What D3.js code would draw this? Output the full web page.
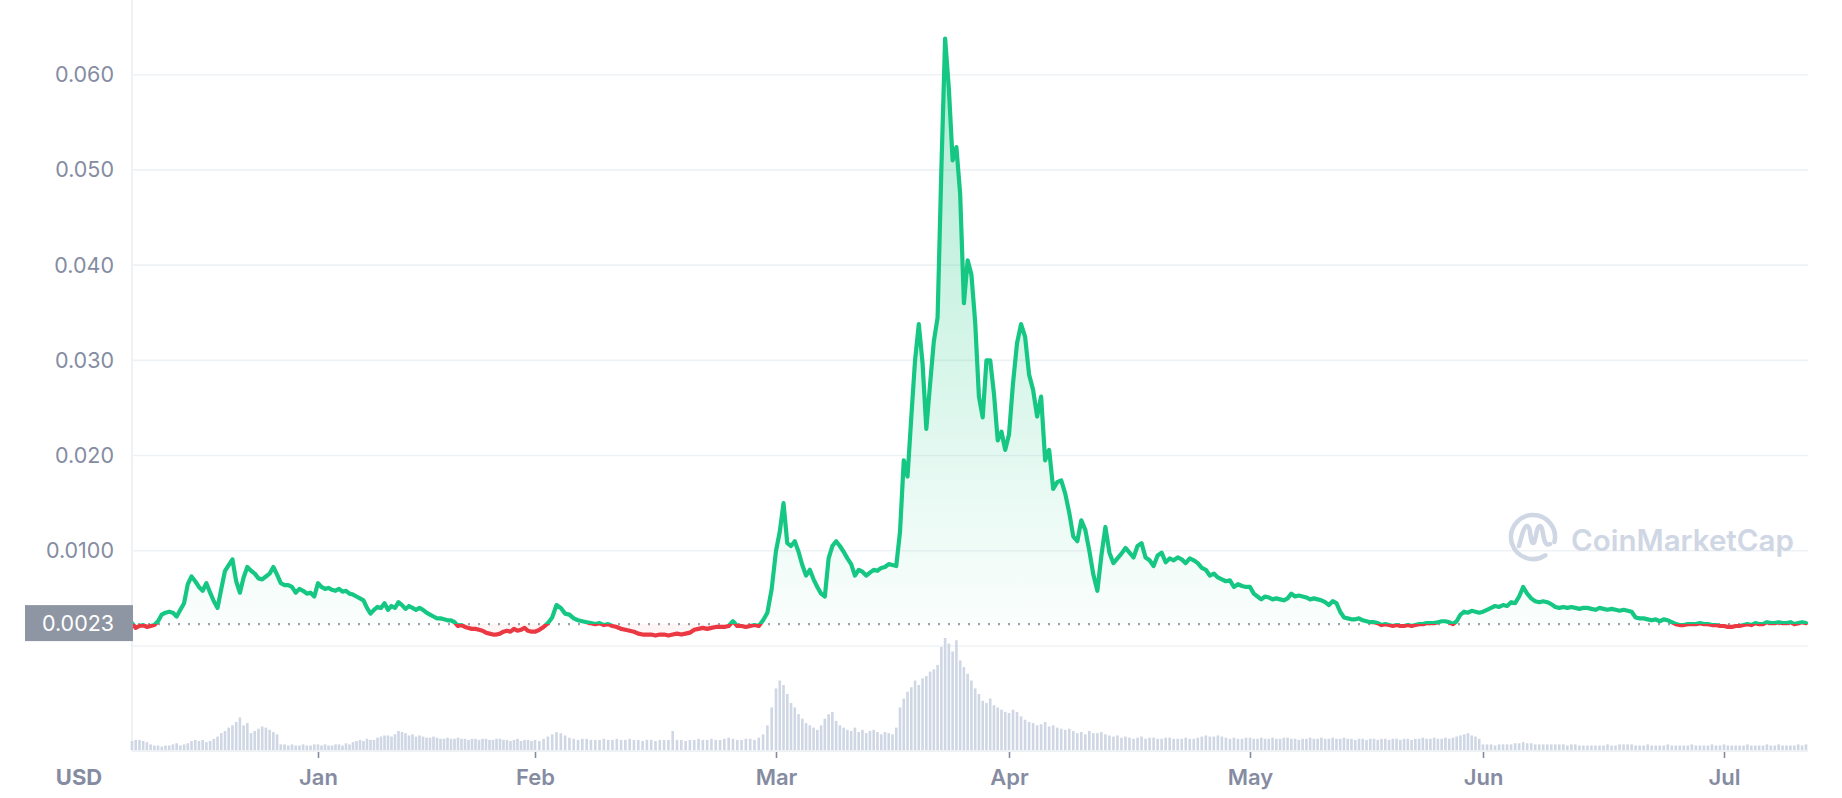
<!DOCTYPE html>
<html><head><meta charset="utf-8">
<script src="https://cdn.jsdelivr.net/npm/d3@7"></script>
<style>
html,body{margin:0;padding:0;background:#fff;}
svg{display:block;font-family:Inter,"Noto Sans",sans-serif;}
</style></head><body>
<svg id="chart" width="1842" height="798"></svg>
<script>
// ---------------- DATA ----------------
const startISO = "2021-12-07T00:00:00Z";
const endISO = "2022-07-11T12:00:00Z";
const stepHours = 12;
const basePrice = 0.0023;
const baseLabel = "0.0023";
const currencyLabel = "USD";
const watermarkText = "CoinMarketCap";

// price in USD, one value every 12 hours
const priceUSD = [
// Dec 7 - Dec 31
0.0024,0.0019, 0.0021,0.0022, 0.0020,0.0021, 0.0022,0.0026, 0.0033,0.0035,
0.0036,0.0035, 0.0031,0.0038, 0.0045,0.0065, 0.0073,0.0068, 0.0062,0.0058,
0.0066,0.0056, 0.0047,0.0040, 0.0060,0.0079, 0.0085,0.0091, 0.0068,0.0056,
0.0072,0.0083, 0.0079,0.0076, 0.0071,0.0070, 0.0073,0.0076, 0.0083,0.0075,
0.0066,0.0064, 0.0064,0.0062, 0.0056,0.0060, 0.0058,0.0055, 0.0056,0.0052,
// Jan
0.0066,0.0062, 0.0060,0.0061, 0.0059,0.0058, 0.0060,0.0057, 0.0058,0.0055,
0.0054,0.0052, 0.0050,0.0048, 0.0040,0.0034, 0.0038,0.0041, 0.0040,0.0045,
0.0038,0.0042, 0.0040,0.0046, 0.0043,0.0039, 0.0042,0.0040, 0.0038,0.0040,
0.0038,0.0035, 0.0033,0.0031, 0.0029,0.0029, 0.0028,0.0027, 0.0027,0.0025,
0.0021,0.0022, 0.0020,0.0019, 0.0018,0.0018, 0.0017,0.0016, 0.0014,0.0013,
0.0012,0.0012, 0.0013,0.0015, 0.0016,0.0015, 0.0018,0.0016, 0.0017,0.0019,
0.0016,0.0015,
// Feb
0.0015,0.0017, 0.0020,0.0024, 0.0030,0.0043, 0.0040,0.0034, 0.0033,0.0029,
0.0027,0.0026, 0.0025,0.0024, 0.0023,0.0024, 0.0022,0.0023, 0.0021,0.0020,
0.0018,0.0017, 0.0016,0.0015, 0.0013,0.0012, 0.0012,0.0012, 0.0011,0.0012,
0.0012,0.0011, 0.0012,0.0013, 0.0012,0.0013, 0.0014,0.0017, 0.0018,0.0019,
0.0018,0.0019, 0.0020,0.0020, 0.0020,0.0021, 0.0026,0.0021, 0.0021,0.0020,
0.0021,0.0022, 0.0021,0.0027, 0.0035,0.0060,
// Mar
0.0100,0.0120, 0.0150,0.0108, 0.0105,0.0110, 0.0099,0.0085, 0.0074,0.0080,
0.0070,0.0062, 0.0055,0.0052, 0.0092,0.0105, 0.0110,0.0105, 0.0099,0.0092,
0.0086,0.0074, 0.0080,0.0078, 0.0074,0.0077, 0.0080,0.0079, 0.0082,0.0083,
0.0086,0.0085, 0.0084,0.0120, 0.0195,0.0178, 0.0240,0.0300, 0.0338,0.0297,
0.0228,0.0275, 0.0320,0.0345, 0.0500,0.0638, 0.0585,0.0510, 0.0524,0.0475,
0.0360,0.0405, 0.0390,0.0340, 0.0262,0.0240, 0.0300,0.0300, 0.0265,0.0216,
0.0225,0.0206,
// Apr
0.0222,0.0276, 0.0318,0.0338, 0.0325,0.0285, 0.0269,0.0241, 0.0262,0.0195,
0.0206,0.0165, 0.0172,0.0174, 0.0160,0.0140, 0.0115,0.0110, 0.0132,0.0122,
0.0100,0.0075, 0.0058,0.0095, 0.0125,0.0098, 0.0087,0.0092, 0.0097,0.0103,
0.0098,0.0093, 0.0105,0.0108, 0.0093,0.0090, 0.0084,0.0095, 0.0098,0.0088,
0.0092,0.0090, 0.0093,0.0091, 0.0087,0.0092, 0.0090,0.0087, 0.0082,0.0080,
0.0074,0.0076, 0.0072,0.0070, 0.0068,0.0069, 0.0062,0.0065, 0.0063,0.0062,
// May
0.0062,0.0055, 0.0052,0.0049, 0.0052,0.0051, 0.0049,0.0050, 0.0049,0.0048,
0.0050,0.0055, 0.0052,0.0053, 0.0052,0.0051, 0.0049,0.0050, 0.0049,0.0048,
0.0046,0.0043, 0.0047,0.0045, 0.0036,0.0030, 0.0029,0.0028, 0.0028,0.0029,
0.0027,0.0026, 0.0025,0.0025, 0.0024,0.0022, 0.0023,0.0022, 0.0021,0.0022,
0.0021,0.0021, 0.0022,0.0021, 0.0022,0.0023, 0.0023,0.0024, 0.0024,0.0024,
0.0025,0.0026, 0.0026,0.0025, 0.0023,0.0026, 0.0033,0.0036, 0.0035,0.0037,
0.0036,0.0035,
// Jun
0.0036,0.0038, 0.0040,0.0042, 0.0041,0.0043, 0.0042,0.0046, 0.0045,0.0052,
0.0062,0.0055, 0.0050,0.0047, 0.0046,0.0047, 0.0046,0.0044, 0.0041,0.0040,
0.0041,0.0040, 0.0041,0.0040, 0.0039,0.0040, 0.0040,0.0039, 0.0038,0.0040,
0.0039,0.0038, 0.0039,0.0038, 0.0037,0.0038, 0.0037,0.0036, 0.0030,0.0029,
0.0029,0.0028, 0.0027,0.0028, 0.0026,0.0028, 0.0027,0.0025, 0.0023,0.0022,
0.0022,0.0023, 0.0023,0.0023, 0.0024,0.0023, 0.0023,0.0022, 0.0022,0.0021,
// Jul 1 - Jul 11
0.0021,0.0020, 0.0020,0.0021, 0.0021,0.0022, 0.0023,0.0022, 0.0024,0.0023,
0.0023,0.0025, 0.0024,0.0024, 0.0025,0.0024, 0.0024,0.0025, 0.0023,0.0024,
0.0025,0.0024
];

// traded volume, relative units (max = 100), one value every 12 hours
const volumeRel = [
// Dec 7 - Dec 31
8,9, 9,8, 7,5, 4,4, 3,4, 4,5, 6,4, 5,6, 8,9, 8,9,
7,8, 10,12, 15,17, 20,22, 25,29, 22,24, 15,17, 19,21, 20,18, 16,14,
5,5, 4,5, 4,4, 5,4, 4,5,
// Jan
5,4, 5,4, 4,5, 5,4, 6,5, 7,8, 9,8, 10,9, 9,11, 12,13,
13,12, 14,17, 16,15, 13,14, 12,13, 12,11, 11,12, 11,10, 10,11, 10,10,
11,10, 10,9, 10,10, 9,10, 10,9, 9,10, 10,9, 9,8, 9,10, 8,9,
9,8,
// Feb
9,8, 10,12, 14,16, 15,13, 11,10, 9,10, 10,9, 9,9, 10,9, 9,10,
9,9, 10,9, 9,8, 9,9, 8,9, 9,9, 17,9, 9,8, 9,9, 10,9,
9,10, 9,9, 10,11, 10,9, 9,10, 10,9, 11,14, 22,38,
// Mar
55,62, 58,50, 42,38, 32,28, 24,22, 20,18, 22,28, 32,34, 26,22, 20,18,
17,20, 16,18, 15,17, 18,16, 14,16, 15,14, 20,38, 46,52, 56,62, 58,64,
66,70, 72,76, 92,100, 95,88, 98,80, 74,68, 62,55, 50,44, 42,46, 40,38,
36,34,
// Apr
33,36, 34,30, 27,25, 24,22, 23,25, 21,22, 20,19, 18,19, 17,15, 16,14,
17,15, 15,16, 14,13, 12,13, 11,12, 11,10, 11,12, 10,11, 11,10, 10,11,
11,10, 10,10, 11,10, 10,11, 12,13, 12,12, 13,12, 11,10, 11,10, 10,11,
// May
11,10, 10,11, 10,10, 11,10, 10,11, 11,10, 10,9, 10,10, 11,10, 10,11,
10,10, 11,10, 10,11, 10,10, 9,10, 10,9, 10,10, 9,10, 10,9, 10,10,
9,10, 10,9, 10,10, 11,10, 10,11, 10,10, 11,10, 11,12, 13,14, 15,13,
12,10,
// Jun
5,5, 5,4, 5,5, 5,5, 6,6, 7,6, 6,5, 5,5, 5,5, 5,5,
5,4, 5,5, 4,4, 4,4, 4,4, 4,5, 4,4, 5,5, 5,5, 4,4,
4,5, 4,4, 4,4, 5,4, 4,4, 4,4, 5,4, 4,4, 4,5, 4,4,
// Jul 1 - Jul 11
5,4, 4,4, 4,4, 5,4, 4,4, 4,5, 4,4, 5,4, 4,4, 4,5,
4,5
];

const yTickValues = [0.01, 0.02, 0.03, 0.04, 0.05, 0.06];
const yTickLabels = ["0.0100", "0.020", "0.030", "0.040", "0.050", "0.060"];
const monthTickISO = ["2022-01-01","2022-02-01","2022-03-01","2022-04-01","2022-05-01","2022-06-01","2022-07-01"];
const monthLabels = ["Jan","Feb","Mar","Apr","May","Jun","Jul"];

// ---------------- LAYOUT ----------------
const green = "#16c784", red = "#ea3943";
const gridColor = "#eff2f5", labelColor = "#858ca2";
const plotLeft = 132, plotRight = 1808;
const volBase = 750, volTop = 638;

const svg = d3.select("#chart");
const start = new Date(startISO);
const times = priceUSD.map((_, i) => new Date(start.getTime() + i * stepHours * 3600e3));
const monthDates = monthTickISO.map(s => new Date(s + "T00:00:00Z"));

// time scale (piecewise to follow the month spacing of the original axis)
const x = d3.scaleUtc()
  .domain([start, ...monthDates, new Date(endISO)])
  .range([plotLeft, 318, 535, 776, 1009, 1250, 1483, 1724, 1806]);
const y = d3.scaleLinear().domain([0, 0.06]).range([646, 74.7]);
const yVol = d3.scaleLinear().domain([0, 100]).range([volBase, volTop]);

// grid
svg.append("g").selectAll("line").data([0, ...yTickValues]).join("line")
  .attr("x1", plotLeft).attr("x2", plotRight)
  .attr("y1", d => y(d)).attr("y2", d => y(d))
  .attr("stroke", gridColor).attr("stroke-width", 1.6);
svg.append("line").attr("x1", plotLeft).attr("x2", plotLeft).attr("y1", 0).attr("y2", volBase + 1)
  .attr("stroke", gridColor).attr("stroke-width", 2);

// volume bars
const bw = 2.6;
svg.append("g").selectAll("rect").data(volumeRel).join("rect")
  .attr("x", (d, i) => x(times[i]) - bw / 2)
  .attr("width", bw)
  .attr("y", d => yVol(d))
  .attr("height", d => volBase - yVol(d))
  .attr("fill", "#cfd6e4");
svg.append("line").attr("x1", plotLeft).attr("x2", plotRight).attr("y1", volBase + 1).attr("y2", volBase + 1)
  .attr("stroke", gridColor).attr("stroke-width", 2.2);

// bottom axis
const xAxis = d3.axisBottom(x).tickValues(monthDates).tickFormat((d, i) => monthLabels[i]).tickSize(6).tickPadding(14);
const gx = svg.append("g").attr("transform", `translate(0,${volBase + 2})`).call(xAxis);
gx.select(".domain").remove();
gx.selectAll(".tick line").attr("stroke", labelColor).attr("stroke-width", 1.6);
gx.selectAll(".tick text").attr("fill", labelColor).attr("font-size", 22).attr("font-weight", 600)
  .attr("font-family", "Inter, sans-serif").attr("y", 25).attr("dy", "0.35em");

// left axis labels
const yAxis = d3.axisLeft(y).tickValues(yTickValues).tickFormat((d, i) => yTickLabels[i]).tickSize(0).tickPadding(18);
const gy = svg.append("g").attr("transform", `translate(${plotLeft},0)`).call(yAxis);
gy.select(".domain").remove();
gy.selectAll(".tick text").attr("fill", labelColor).attr("font-size", 21.5).attr("font-family", "Inter, sans-serif");

// watermark
const wm = svg.append("g").attr("fill", "none").attr("stroke", "#cfd6e4").attr("stroke-width", 4.5)
  .attr("stroke-linecap", "round").attr("stroke-linejoin", "round").attr("transform", "translate(1533,537)");
wm.append("path").attr("d", d3.arc()({innerRadius: 22, outerRadius: 22, startAngle: 2.55, endAngle: 2.55 + 2 * Math.PI - 0.75}));
wm.append("path").attr("d", "M-14,9 C-11,-2 -9,-11 -6,-11 C-2,-11 -3,6 0,6 C3,6 3,-11 7,-11 C11,-11 9,11 17,7");
svg.append("text").attr("x", 1571).attr("y", 551).text(watermarkText)
  .attr("fill", "#cfd6e4").attr("font-size", 29.5).attr("font-weight", 600).attr("font-family", "Inter, sans-serif");

// price area + line
const defs = svg.append("defs");
const yb = y(basePrice);
defs.append("clipPath").attr("id", "above").append("rect").attr("x", 0).attr("y", 0).attr("width", 1842).attr("height", yb);
defs.append("clipPath").attr("id", "below").append("rect").attr("x", 0).attr("y", yb).attr("width", 1842).attr("height", 798 - yb);
const grad = defs.append("linearGradient").attr("id", "gfill").attr("gradientUnits", "userSpaceOnUse")
  .attr("x1", 0).attr("x2", 0).attr("y1", y(0.064)).attr("y2", yb);
grad.append("stop").attr("offset", "0%").attr("stop-color", green).attr("stop-opacity", 0.36);
grad.append("stop").attr("offset", "100%").attr("stop-color", green).attr("stop-opacity", 0.02);

const pts = priceUSD.map((p, i) => [times[i], p]);
const area = d3.area().x(d => x(d[0])).y0(yb).y1(d => y(d[1]));
const line = d3.line().x(d => x(d[0])).y(d => y(d[1]));

svg.append("path").attr("d", area(pts)).attr("fill", "url(#gfill)").attr("clip-path", "url(#above)");
svg.append("path").attr("d", area(pts)).attr("fill", red).attr("fill-opacity", 0.05).attr("clip-path", "url(#below)");

// base price dotted line
svg.append("line").attr("x1", plotLeft + 6).attr("x2", plotRight).attr("y1", yb).attr("y2", yb)
  .attr("stroke", "#9aa1ad").attr("stroke-width", 2.2).attr("stroke-dasharray", "2 8");

svg.append("path").attr("d", line(pts)).attr("fill", "none").attr("stroke", green).attr("stroke-width", 4.2)
  .attr("stroke-linejoin", "round").attr("stroke-linecap", "round").attr("clip-path", "url(#above)");
svg.append("path").attr("d", line(pts)).attr("fill", "none").attr("stroke", red).attr("stroke-width", 4.2)
  .attr("stroke-linejoin", "round").attr("stroke-linecap", "round").attr("clip-path", "url(#below)");

// base price label box
svg.append("rect").attr("x", 25).attr("y", yb - 19).attr("width", plotLeft + 1 - 25).attr("height", 36).attr("fill", "#8f96a3");
svg.append("text").attr("x", 78).attr("y", yb - 1).attr("dy", "0.35em").attr("text-anchor", "middle")
  .attr("fill", "#fff").attr("font-size", 21.5).attr("font-family", "Inter, sans-serif").text(baseLabel);

// currency label
svg.append("text").attr("x", 79).attr("y", 777).attr("dy", "0.35em").attr("text-anchor", "middle")
  .attr("fill", labelColor).attr("font-size", 22).attr("font-weight", 700).attr("font-family", "Inter, sans-serif").text(currencyLabel);
</script>
</body></html>
